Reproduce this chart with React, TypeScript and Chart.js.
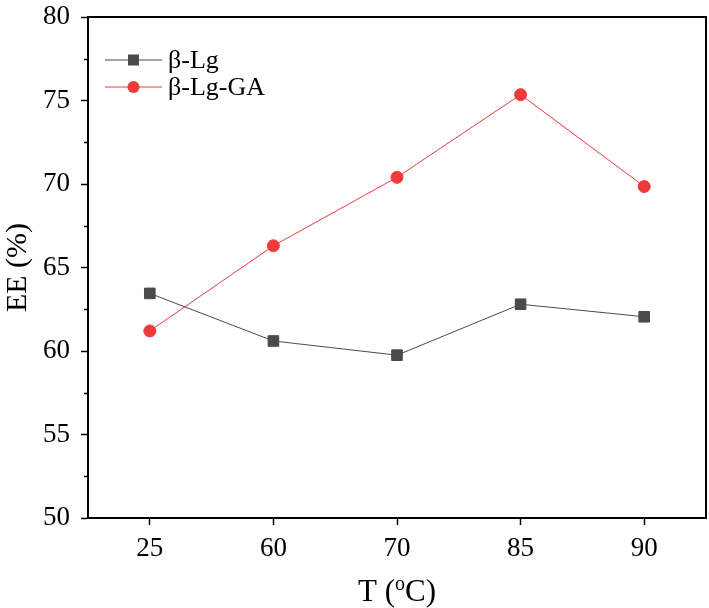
import React, { useEffect, useRef } from "react";
import { Chart, registerables } from "chart.js";

Chart.register(...registerables);

const categories = ["25", "60", "70", "85", "90"];
const lgValues = [63.45, 60.6, 59.75, 62.8, 62.05];
const lgGaValues = [61.2, 66.3, 70.4, 75.35, 69.85];
const seriesLabels = ["β-Lg", "β-Lg-GA"];
const yTitle = "EE (%)";
const xTitleParts = ["T (", "o", "C)"];

const FONT = "'Liberation Serif', 'Times New Roman', 'DejaVu Serif', serif";

const framePlugin = {
  id: "frame",
  afterDraw(chart: any) {
    const { ctx, chartArea } = chart;
    const ys = chart.scales.y;
    ctx.save();
    ctx.strokeStyle = "#000";
    ctx.lineWidth = 1.5;
    for (let v = 52.5; v < 80; v += 5) {
      const py = Math.round(ys.getPixelForValue(v)) + 0.5;
      ctx.beginPath();
      ctx.moveTo(chartArea.left - 4, py);
      ctx.lineTo(chartArea.left, py);
      ctx.stroke();
    }
    ctx.lineWidth = 2;
    ctx.strokeRect(chartArea.left, chartArea.top, chartArea.right - chartArea.left, chartArea.bottom - chartArea.top);

    // legend
    const x0 = chartArea.left + 17;
    const lineLen = 57;
    chart.data.datasets.forEach((ds: any, i: number) => {
      const y = chartArea.top + 43 + i * 27;
      ctx.strokeStyle = ds.borderColor;
      ctx.lineWidth = 1;
      ctx.beginPath();
      ctx.moveTo(x0, y);
      ctx.lineTo(x0 + lineLen, y);
      ctx.stroke();
      ctx.fillStyle = ds.pointBackgroundColor;
      const cx = x0 + lineLen / 2;
      if (ds.pointStyle === "rect") {
        ctx.fillRect(cx - 5.5, y - 5.5, 11, 11);
      } else {
        ctx.beginPath();
        ctx.arc(cx, y, 6, 0, Math.PI * 2);
        ctx.fill();
      }
      ctx.fillStyle = "#000";
      ctx.font = `26px ${FONT}`;
      ctx.textBaseline = "middle";
      ctx.textAlign = "left";
      ctx.fillText(ds.label, x0 + lineLen + 6, y + 1);
    });

    // x title with superscript
    const big = `31px ${FONT}`;
    const small = `20px ${FONT}`;
    ctx.fillStyle = "#000";
    ctx.textBaseline = "alphabetic";
    ctx.textAlign = "left";
    ctx.font = big;
    const w0 = ctx.measureText(xTitleParts[0]).width;
    const w2 = ctx.measureText(xTitleParts[2]).width;
    ctx.font = small;
    const w1 = ctx.measureText(xTitleParts[1]).width;
    const total = w0 + w1 + w2;
    const cxT = (chartArea.left + chartArea.right) / 2;
    let xx = cxT - total / 2;
    const base = 601;
    ctx.font = big;
    ctx.fillText(xTitleParts[0], xx, base);
    xx += w0;
    ctx.font = small;
    ctx.fillText(xTitleParts[1], xx, base - 11);
    xx += w1;
    ctx.font = big;
    ctx.fillText(xTitleParts[2], xx, base);
    ctx.restore();
  },
};

export default function App() {
  const ref = useRef<HTMLCanvasElement>(null);
  useEffect(() => {
    document.body.style.margin = "0";
    const chart = new Chart(ref.current!, {
      type: "line",
      data: {
        labels: categories,
        datasets: [
          {
            label: seriesLabels[0],
            data: lgValues,
            borderColor: "#4a4a4a",
            backgroundColor: "#4a4a4a",
            pointBackgroundColor: "#4a4a4a",
            pointBorderColor: "#4a4a4a",
            pointStyle: "rect",
            pointRadius: 7.5,
            pointBorderWidth: 1,
            borderWidth: 1,
          },
          {
            label: seriesLabels[1],
            data: lgGaValues,
            borderColor: "#ee3a3a",
            backgroundColor: "#ee3a3a",
            pointBackgroundColor: "#ee3a3a",
            pointBorderColor: "#ee3a3a",
            pointStyle: "circle",
            pointRadius: 6,
            pointBorderWidth: 1,
            borderWidth: 1,
          },
        ],
      },
      options: {
        animation: false,
        responsive: false,
        layout: { autoPadding: false, padding: { top: 17, right: 3, left: 0, bottom: 0 } },
        plugins: { legend: { display: false }, tooltip: { enabled: false } },
        scales: {
          x: {
            offset: true,
            border: { display: true, color: "#000", width: 2 },
            grid: { drawOnChartArea: false, tickLength: 7, tickColor: "#000", tickWidth: 1.5, offset: false },
            ticks: { color: "#000", font: { family: FONT, size: 27 }, padding: 8, maxRotation: 0 },
            title: { display: false },
            afterFit: (s: any) => { s.height = 90; s.paddingLeft = 0; s.paddingRight = 0; },
          },
          y: {
            min: 50,
            max: 80,
            border: { display: true, color: "#000", width: 2 },
            grid: { drawOnChartArea: false, tickLength: 7, tickColor: "#000", tickWidth: 1.5 },
            ticks: { stepSize: 5, color: "#000", font: { family: FONT, size: 27 }, padding: 11 },
            title: { display: true, text: yTitle, color: "#000", font: { family: FONT, size: 30 }, padding: { top: 0, bottom: 4 } },
            afterFit: (s: any) => { s.width = 88; s.paddingTop = 0; s.paddingBottom = 0; },
          },
        },
      },
      plugins: [framePlugin],
    });
    return () => chart.destroy();
  }, []);
  return (
    <div style={{ width: 709, height: 608 }}>
      <canvas ref={ref} width={709} height={608} style={{ display: "block", width: 709, height: 608 }} />
    </div>
  );
}
